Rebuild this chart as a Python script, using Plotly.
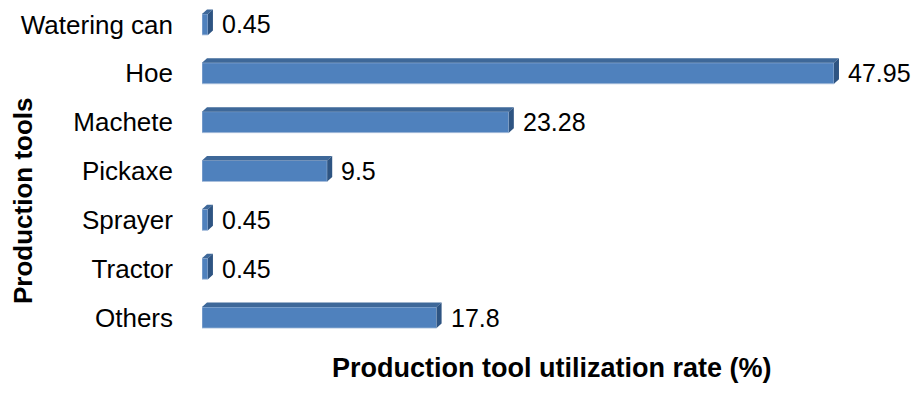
import plotly.graph_objects as go

categories = ["Watering can", "Hoe", "Machete", "Pickaxe", "Sprayer", "Tractor", "Others"]
values = [0.45, 47.95, 23.28, 9.5, 0.45, 0.45, 17.8]
value_labels = ["0.45", "47.95", "23.28", "9.5", "0.45", "0.45", "17.8"]

FRONT = "#4F81BD"
TOP = "#3E6899"
SIDE = "#2E5482"
FONT = "Liberation Sans, Arial, sans-serif"

x_max = 50
margin_l, margin_r, margin_t, margin_b = 202, 52, 0, 59
W, H = 913, 401
plot_w = W - margin_l - margin_r
plot_h = H - margin_t - margin_b
n = len(categories)
px_x = x_max / plot_w          # data units per pixel (x)
px_y = n / plot_h              # data units per pixel (y)

half = 0.215
dx = 5 * px_x
dy = 4.5 * px_y

idx = list(range(n))

top_x, top_y, side_x, side_y = [], [], [], []
for i, v in zip(idx, values):
    y0 = i - half
    y1 = i + half
    top_x += [0, v, v + dx, dx, 0, None]
    top_y += [y0, y0, y0 - dy, y0 - dy, y0, None]
    side_x += [v, v + dx, v + dx, v, v, None]
    side_y += [y0, y0 - dy, y1 - dy, y1, y0, None]

fig = go.Figure()
fig.add_trace(go.Bar(
    x=values, y=idx, orientation="h", width=2 * half,
    marker=dict(color=FRONT, line=dict(color="#A9BFDC", width=0.8)),
    hoverinfo="skip", showlegend=False,
))
fig.add_trace(go.Scatter(
    x=top_x, y=top_y, mode="lines", fill="toself", fillcolor=TOP,
    line=dict(width=0, color=TOP), hoverinfo="skip", showlegend=False,
))
fig.add_trace(go.Scatter(
    x=side_x, y=side_y, mode="lines", fill="toself", fillcolor=SIDE,
    line=dict(width=0, color=SIDE), hoverinfo="skip", showlegend=False,
))

for i, v, lab in zip(idx, values, value_labels):
    fig.add_annotation(
        x=v, y=i, text=lab, showarrow=False, xanchor="left", yanchor="middle",
        xshift=12, font=dict(family=FONT, size=25, color="#000000"),
    )

fig.add_annotation(
    x=(6 - margin_l) / plot_w, y=1 - (201 - margin_t) / plot_h,
    xref="paper", yref="paper", text="<b>Production tools</b>", textangle=-90,
    showarrow=False, font=dict(family=FONT, size=26, color="#000000"),
)
fig.add_annotation(
    x=(551 - margin_l) / plot_w, y=1 - (385 - margin_t) / plot_h,
    xref="paper", yref="paper", text="<b>Production tool utilization rate (%)</b>",
    showarrow=False, font=dict(family=FONT, size=27, color="#000000"),
)

fig.update_layout(
    width=W, height=H,
    margin=dict(l=margin_l, r=margin_r, t=margin_t, b=margin_b, pad=0),
    paper_bgcolor="white", plot_bgcolor="white",
    xaxis=dict(range=[0, x_max], showgrid=False, zeroline=False,
               showticklabels=False, showline=False, ticks=""),
    yaxis=dict(range=[n - 0.5, -0.5], tickvals=idx, ticktext=categories,
               showgrid=False, zeroline=False, showline=False, ticks="",
               ticklabelstandoff=28,
               tickfont=dict(family=FONT, size=26, color="#000000")),
)

fig.write_html(
    "out.html",
    config={"displayModeBar": False},
    post_script="document.body.style.margin='0px';document.body.style.overflow='hidden';",
)
